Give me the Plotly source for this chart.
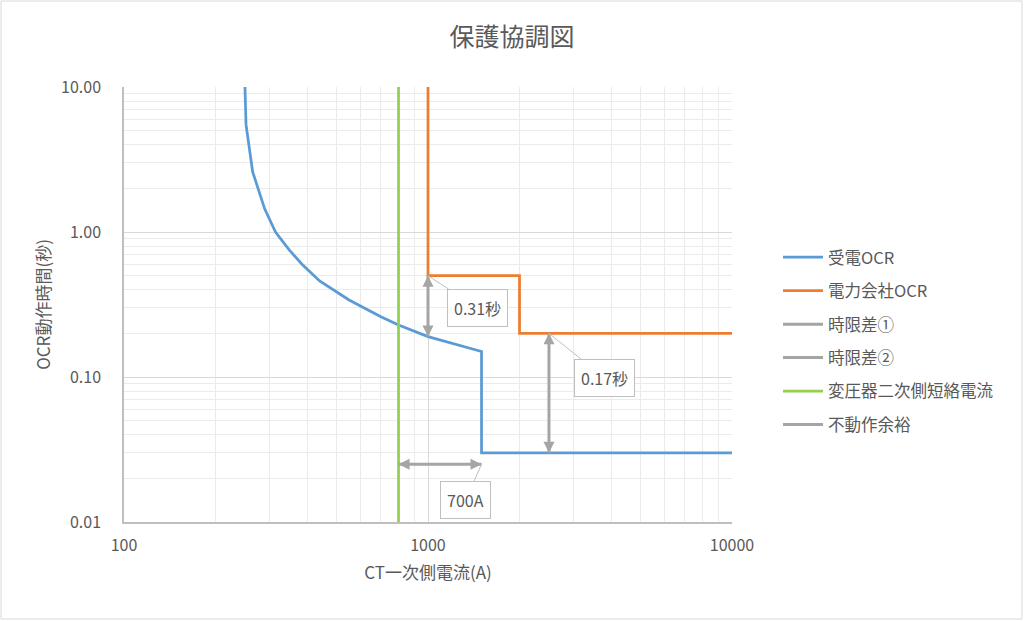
import math
import plotly.graph_objects as go

# ---- data ----
ocr_current = [250, 252, 265, 290, 315, 350, 385, 440, 550, 700, 800, 1000, 1500, 1500, 10000]
ocr_time = [10, 5.5, 2.6, 1.45, 1.0, 0.75, 0.6, 0.46, 0.34, 0.26, 0.228, 0.19, 0.15, 0.03, 0.03]

util_current = [1000, 1000, 2000, 2000, 10000]
util_time = [10, 0.5, 0.5, 0.2, 0.2]

tr_current = [800, 800]
tr_time = [0.01, 10]

gap1_current = [1000, 1000]
gap1_time = [0.5, 0.19]

gap2_current = [2500, 2500]
gap2_time = [0.2, 0.03]

margin_current = [800, 1500]
margin_time = [0.025, 0.025]

callout_texts = ["0.31秒", "0.17秒", "700A"]

x_tickvals = [100, 1000, 10000]
x_ticktext = ["100", "1000", "10000"]
y_tickvals = [0.01, 0.1, 1, 10]
y_ticktext = ["0.01", "0.10", "1.00", "10.00"]
x_minor = [m * d for d in (100, 1000) for m in range(2, 10)]
y_minor = [m * d for d in (0.01, 0.1, 1) for m in range(2, 10)]

FONT = "Noto Sans CJK JP"
TXT = "#595959"
GRAY = "#a5a5a5"

fig = go.Figure()

fig.add_trace(go.Scatter(x=ocr_current, y=ocr_time, mode="lines", name="受電OCR",
                         line=dict(color="#5b9bd5", width=2.75), legendgroup="g1"))
fig.add_trace(go.Scatter(x=util_current, y=util_time, mode="lines", name="電力会社OCR",
                         line=dict(color="#ed7d31", width=2.75), legendgroup="g2"))


def add_arrow(xs, ys, name, group, vertical):
    fig.add_trace(go.Scatter(x=xs, y=ys, mode="lines", name=name, legendgroup=group,
                             line=dict(color=GRAY, width=3)))
    if vertical:
        syms = ["arrow-up", "arrow-down"] if ys[0] > ys[1] else ["arrow-down", "arrow-up"]
    else:
        syms = ["arrow-left", "arrow-right"] if xs[0] < xs[1] else ["arrow-right", "arrow-left"]
    fig.add_trace(go.Scatter(x=xs, y=ys, mode="markers", legendgroup=group, showlegend=False,
                             hoverinfo="skip",
                             marker=dict(symbol=syms, size=11, color=GRAY, line=dict(width=0))))


add_arrow(gap1_current, gap1_time, "時限差①", "g3", True)
add_arrow(gap2_current, gap2_time, "時限差②", "g4", True)
fig.add_trace(go.Scatter(x=tr_current, y=tr_time, mode="lines", name="変圧器二次側短絡電流",
                         line=dict(color="#92d050", width=2.75), legendgroup="g5"))
add_arrow(margin_current, margin_time, "不動作余裕", "g6", False)

# callouts (pointing at arrow ends)
callouts = [
    (gap1_current[0], gap1_time[0], callout_texts[0], 49, 32),
    (gap2_current[0], gap2_time[0], callout_texts[1], 56, 45),
    (margin_current[1], margin_time[1], callout_texts[2], -16, 36),
]
for cx, cy, txt, ax, ay in callouts:
    fig.add_annotation(x=math.log10(cx), y=math.log10(cy), xref="x", yref="y",
                       text=txt, showarrow=True, arrowhead=0, arrowwidth=1,
                       arrowcolor="#bfbfbf", ax=ax, ay=ay,
                       font=dict(family=FONT, size=16, color=TXT),
                       bgcolor="white", bordercolor="#bfbfbf", borderwidth=1, borderpad=6)

L, R, T, B = 124, 292, 87, 99
W, H = 1024, 621
pw, ph = W - L - R, H - T - B


def px_x(p):
    return (p - L) / pw


def px_y(p):
    return (H - B - p) / ph


fig.add_shape(type="rect", xref="paper", yref="paper",
              x0=px_x(1), x1=px_x(1022), y0=px_y(619), y1=px_y(1),
              line=dict(color="#d9d9d9", width=1), layer="below")

fig.update_layout(
    width=W, height=H,
    margin=dict(l=L, r=R, t=T, b=B, autoexpand=False),
    paper_bgcolor="white", plot_bgcolor="white",
    font=dict(family=FONT, color=TXT, size=16),
    title=dict(text="保護協調図", x=0.5, xanchor="center", y=1 - 37 / H, yanchor="middle",
               font=dict(family=FONT, size=25, color=TXT)),
    showlegend=True,
    legend=dict(x=px_x(778), y=px_y(240), xanchor="left", yanchor="top",
                font=dict(family=FONT, size=16.5, color=TXT), itemwidth=40,
                traceorder="grouped", tracegroupgap=9, bgcolor="rgba(0,0,0,0)"),
    xaxis=dict(type="log", range=[2, 4], tickvals=x_tickvals, ticktext=x_ticktext,
               showgrid=True, gridcolor="#d9d9d9", gridwidth=1,
               minor=dict(tickvals=x_minor, showgrid=True, gridcolor="#ebebeb", gridwidth=1),
               showline=True, linecolor="#bfbfbf", linewidth=1.5, mirror=False,
               ticks="", ticklabelstandoff=8, zeroline=False,
               tickfont=dict(family=FONT, size=16, color=TXT),
               title=dict(text="CT一次側電流(A)", standoff=12,
                          font=dict(family=FONT, size=17, color=TXT))),
    yaxis=dict(type="log", range=[-2, 1], tickvals=y_tickvals, ticktext=y_ticktext,
               showgrid=True, gridcolor="#d9d9d9", gridwidth=1,
               minor=dict(tickvals=y_minor, showgrid=True, gridcolor="#ebebeb", gridwidth=1),
               showline=True, linecolor="#bfbfbf", linewidth=1.5,
               ticks="", ticklabelstandoff=18, zeroline=False,
               tickfont=dict(family=FONT, size=16, color=TXT),
               title=dict(text="OCR動作時間(秒)", standoff=6,
                          font=dict(family=FONT, size=17, color=TXT))),
)

fig.write_html("out.html", config={"displayModeBar": False},
               post_script="document.body.style.margin='0';document.body.style.padding='0';")
